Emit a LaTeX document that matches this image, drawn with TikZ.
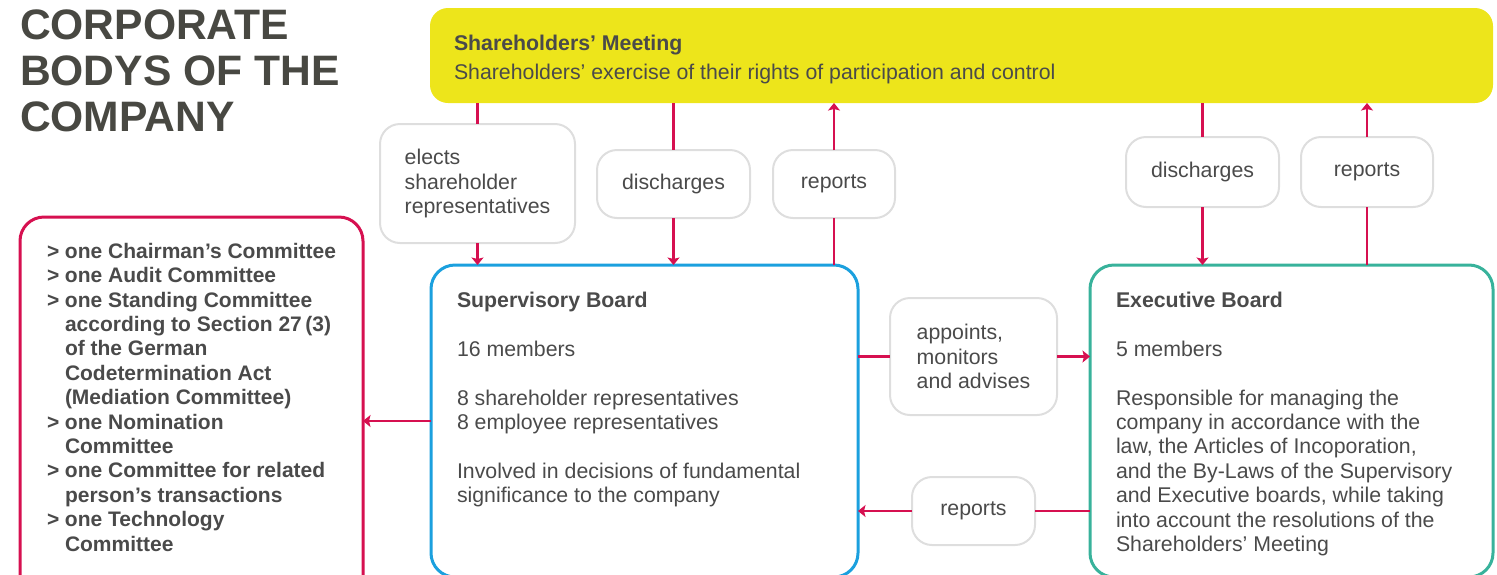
\documentclass[tikz,border=0pt]{standalone}
\usepackage{fontspec}
\setmainfont{Liberation Sans}
\usetikzlibrary{positioning,arrows.meta}
\tikzset{>={Stealth[length=7.5pt,width=12pt,inset=1.5pt]}}

\definecolor{meetyellow}{RGB}{237,229,27}
\definecolor{flowred}{RGB}{214,16,80}
\definecolor{supblue}{RGB}{27,160,222}
\definecolor{execteal}{RGB}{56,178,155}
\definecolor{taggray}{RGB}{222,222,222}
\definecolor{bodygray}{RGB}{74,74,74}
\definecolor{titlegray}{RGB}{72,72,66}

% committee list: marker and hanging indent
\newcommand\cmtitem[1]{\makebox[18pt][l]{>}#1}
\newcommand\cmtcont[1]{\hspace*{18pt}#1}

\begin{document}
\begin{tikzpicture}[x=1pt,y=1pt,
    every node/.style={text=bodygray, font=\fontsize{21.3}{24.4}\selectfont,
      inner sep=0pt, outer sep=0pt},
    tagbox/.style={draw=taggray, line width=2pt, rounded corners=20pt,
      minimum height=68pt, align=left},
    board/.style={draw=#1, line width=3pt, rounded corners=24pt,
      anchor=north west},
    boardtext/.style={anchor=north west, align=left},
    flow/.style={draw=flowred, line width=2.8pt}
  ]
  \useasboundingbox (0,0) rectangle (1497,-574);
  \clip (0,0) rectangle (1497,-574);

  \node [anchor=north west, align=left, text=titlegray,
    font=\fontsize{42.6}{46}\selectfont\bfseries
  ] (title) at (20,-10) {CORPORATE\\BODYS OF THE\\COMPANY};

  % shareholders' meeting
  \node [fill=meetyellow, rounded corners=18pt,
    minimum width=1063, minimum height=95, anchor=north west
  ] (meet) at (430,-8) {};
  \node [boardtext] (meettext) at (454,-35)
    {\textbf{Shareholders’ Meeting}\\[4.6pt]
     Shareholders’ exercise of their rights of participation and control};

  % the three boards
  \node [board=flowred, minimum width=343, minimum height=408] (cmte) at (20,-217) {};
  \node [board=supblue, minimum width=427, minimum height=312] (sup) at (431,-265) {};
  \node [board=execteal, minimum width=403, minimum height=312] (exec) at (1090,-265) {};

  \node [boardtext, font=\fontsize{21}{24.4}\selectfont\bfseries] (cmtetext) at (47,-243)
    {\cmtitem{one Chairman’s Committee}\\
     \cmtitem{one Audit Committee}\\
     \cmtitem{one Standing Committee}\\
     \cmtcont{according to Section 27\,(3)}\\
     \cmtcont{of the German}\\
     \cmtcont{Codetermination Act}\\
     \cmtcont{(Mediation Committee)}\\
     \cmtitem{one Nomination}\\
     \cmtcont{Committee}\\
     \cmtitem{one Committee for related}\\
     \cmtcont{person’s transactions}\\
     \cmtitem{one Technology}\\
     \cmtcont{Committee}};

  \node [boardtext] (suptext) at (457,-292)
    {\textbf{Supervisory Board}\\[24.4pt]
     16 members\\[24.4pt]
     8 shareholder representatives\\
     8 employee representatives\\[24.4pt]
     Involved in decisions of fundamental\\
     significance to the company};

  \node [boardtext] (exectext) at (1116,-292)
    {\textbf{Executive Board}\\[24.4pt]
     5 members\\[24.4pt]
     Responsible for managing the\\
     company in accordance with the\\
     law, the Articles of Incoporation,\\
     and the By-Laws of the Supervisory\\
     and Executive boards, while taking\\
     into account the resolutions of the\\
     Shareholders’ Meeting};

  % labels on the connections
  \node [tagbox, minimum width=195, minimum height=119] (elects) at (477.5,-183.5)
    {elects\\shareholder\\representatives};
  \node [tagbox, minimum width=153] (dis1) at (673.5,-184) {discharges};
  \node [tagbox, minimum width=122] (rep1) at (834,-184) {reports};
  \node [tagbox, minimum width=153, minimum height=70] (dis2) at (1202.5,-172) {discharges};
  \node [tagbox, minimum width=132, minimum height=70] (rep2) at (1367,-172) {reports};
  \node [tagbox, minimum width=167, minimum height=117] (appoint) at (973.5,-356.5)
    {appoints,\\monitors\\and advises};
  \node [tagbox, minimum width=123] (rep3) at (973.5,-511) {reports};

  % meeting <-> boards
  \draw[flow] (elects.north |- meet.south) -- (elects.north);
  \draw[flow,->] (elects.south) -- (elects.south |- sup.north);
  \draw[flow] (dis1.north |- meet.south) -- (dis1.north);
  \draw[flow,->] (dis1.south) -- (dis1.south |- sup.north);
  \draw[flow] (rep1.south |- sup.north) -- (rep1.south);
  \draw[flow,->] (rep1.north) -- (rep1.north |- meet.south);
  \draw[flow] (dis2.north |- meet.south) -- (dis2.north);
  \draw[flow,->] (dis2.south) -- (dis2.south |- exec.north);
  \draw[flow] (rep2.south |- exec.north) -- (rep2.south);
  \draw[flow,->] (rep2.north) -- (rep2.north |- meet.south);

  % between the boards
  \draw[flow] (appoint.west -| sup.east) -- (appoint.west);
  \draw[flow,->] (appoint.east) -- (appoint.east -| exec.west);
  \draw[flow] (rep3.east -| exec.west) -- (rep3.east);
  \draw[flow,->] (rep3.west) -- (rep3.west -| sup.east);
  \draw[flow,->] (sup.west) -- (cmte.east);
\end{tikzpicture}
\end{document}
